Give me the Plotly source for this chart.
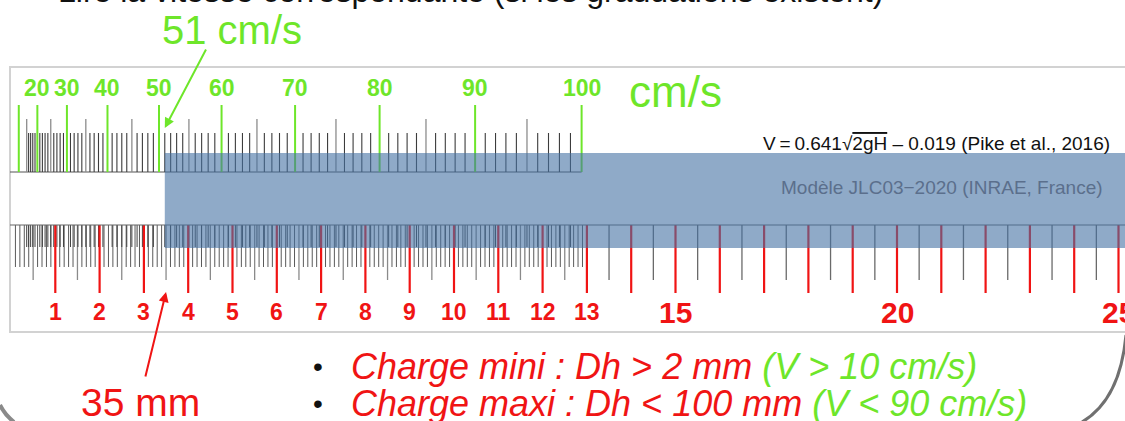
import plotly.graph_objects as go

# ---------------- data ----------------
cm_label_values = [1, 2, 3, 4, 5, 6, 7, 8, 9, 10, 11, 12, 13, 15, 20, 25]
cm_red_ticks = list(range(1, 26))
mm_fine_end_cm = 13
half_cm_ticks_far = [13.5, 14.5, 15.5, 16.5, 17.5, 18.5, 19.5, 20.5, 21.5, 22.5, 23.5, 24.5]
v_major = [10, 20, 30, 40, 50, 60, 70, 80, 90, 100]
v_labels = [20, 30, 40, 50, 60, 70, 80, 90, 100]
v_minor = [v for v in range(15, 100) if v % 10 != 0]
v_read = 51          # cm/s read on the scale
h_read_mm = 35       # mm read on the scale
coef_a, coef_b, g = 0.641, 0.019, 9.81   # V = a*sqrt(2gH) - b  (Pike et al., 2016)

W, HGT = 1125, 421
PX0, PXCM = 11, 44.3   # pixel of 0 cm, pixels per cm


def h_cm(v_cms):
    v = v_cms / 100.0
    return ((v + coef_b) / coef_a) ** 2 / (2 * g) * 100.0


def px_to_cm(px):
    return (px - PX0) / PXCM


def segs(xs, y0, y1):
    X, Y = [], []
    for x in xs:
        X += [x, x, None]
        Y += [y0, y1, None]
    return X, Y


GREEN = "#6ee62a"
RED = "#f01414"
FONT = "Liberation Sans, Arial, sans-serif"

fig = go.Figure()


def add_ticks(xs, y0, y1, color, width):
    X, Y = segs(xs, y0, y1)
    fig.add_trace(go.Scatter(x=X, y=Y, mode="lines", line=dict(color=color, width=width),
                             hoverinfo="skip", showlegend=False))


# ---------- bottom ruler (cm / mm) ----------
mm_all = [i / 10 for i in range(1, mm_fine_end_cm * 10)]
mm_small = [m for m in mm_all if round(m * 10) % 5 != 0]
half_near = [m for m in mm_all if round(m * 10) % 10 == 5]
add_ticks(mm_small, 225, 267, "#5a5a5a", 1)
add_ticks(half_near, 225, 280, "#8a8a8a", 1.3)
add_ticks(half_cm_ticks_far, 225, 280, "#6a6a6a", 1.3)
# velocity graduations mirrored on the bottom edge
add_ticks([h_cm(v) for v in v_minor], 225, 247, "#404040", 1)
add_ticks(cm_red_ticks, 225, 293, RED, 2.2)

# baselines
fig.add_trace(go.Scatter(x=[px_to_cm(10), h_cm(v_major[-1])], y=[172, 172], mode="lines",
                         line=dict(color="#555", width=1.2), hoverinfo="skip", showlegend=False))
fig.add_trace(go.Scatter(x=[px_to_cm(10), px_to_cm(W + 5)], y=[225, 225], mode="lines",
                         line=dict(color="#666", width=1.2), hoverinfo="skip", showlegend=False))

# ---------- top ruler (velocity) ----------
v_five = [v for v in v_minor if v % 5 == 0]
v_one = [v for v in v_minor if v % 5 != 0]
add_ticks([h_cm(v) for v in v_one], 133, 172, "#3c3c3c", 1.1)
add_ticks([h_cm(v) for v in v_five], 119, 172, "#8c8c8c", 1.3)
add_ticks([h_cm(v) for v in v_major], 105, 172, GREEN, 2)

ann = []
for v in v_labels:
    ann.append(dict(x=h_cm(v), y=88, text=str(v), showarrow=False, xanchor="center", yanchor="middle",
                    font=dict(family=FONT, size=23, color=GREEN, weight="bold")))
for c in cm_label_values:
    big = c >= 15
    ann.append(dict(x=c, y=312, text=str(c), showarrow=False, xanchor="center", yanchor="middle",
                    font=dict(family=FONT, size=30 if big else 23, color=RED, weight="bold")))

ann.append(dict(x=px_to_cm(675), y=91, text="cm/s", showarrow=False, xanchor="center", yanchor="middle",
                font=dict(family=FONT, size=44, color=GREEN)))
ann.append(dict(x=px_to_cm(232), y=30, text="51 cm/s", showarrow=False, xanchor="center", yanchor="middle",
                font=dict(family=FONT, size=40, color=GREEN)))
ann.append(dict(x=px_to_cm(140), y=402, text=f"{h_read_mm} mm", showarrow=False, xanchor="center",
                yanchor="middle", font=dict(family=FONT, size=39, color=RED)))
# arrows
ann.append(dict(x=h_cm(v_read), y=128, ax=42, ay=-80, text="", showarrow=True, arrowhead=2,
                arrowsize=1, arrowwidth=2, arrowcolor=GREEN))
ann.append(dict(x=h_read_mm / 10, y=292, ax=-21, ay=86, text="", showarrow=True, arrowhead=2,
                arrowsize=1, arrowwidth=2, arrowcolor=RED))

# formula & model text
ann.append(dict(x=px_to_cm(1112), y=143,
                text="V\u2009=\u20090.641\u221a<span style='text-decoration:overline'>2gH</span> \u2013 0.019 (Pike et al., 2016)",
                showarrow=False, xanchor="right", yanchor="middle",
                font=dict(family=FONT, size=19, color="#111")))
ann.append(dict(x=px_to_cm(942), y=187, text="Modèle JLC03\u22122020 (INRAE, France)", showarrow=False,
                xanchor="center", yanchor="middle", font=dict(family=FONT, size=19, color="#5b6f8c")))

# bullets
ann.append(dict(x=px_to_cm(318), y=366, text="\u2022", showarrow=False, xanchor="center", yanchor="middle",
                font=dict(family=FONT, size=28, color="#111")))
ann.append(dict(x=px_to_cm(318), y=403, text="\u2022", showarrow=False, xanchor="center", yanchor="middle",
                font=dict(family=FONT, size=28, color="#111")))
ann.append(dict(x=px_to_cm(349), y=366,
                text=f"<i>Charge mini : Dh &gt; 2 mm <span style='color:{GREEN}'>(V &gt; 10 cm/s)</span></i>",
                showarrow=False, xanchor="left", yanchor="middle", font=dict(family=FONT, size=36, color=RED)))
ann.append(dict(x=px_to_cm(349), y=403,
                text=f"<i>Charge maxi : Dh &lt; 100 mm <span style='color:{GREEN}'>(V &lt; 90 cm/s)</span></i>",
                showarrow=False, xanchor="left", yanchor="middle", font=dict(family=FONT, size=36, color=RED)))

# cut-off slide title
ann.append(dict(xref="paper", yref="paper", x=470 / W, y=1 + 9 / HGT,
                text="Lire la vitesse correspondante (si les graduations existent)",
                showarrow=False, xanchor="center", yanchor="middle",
                font=dict(family=FONT, size=32, color="#111")))


def pp(px, py):
    return f"{px / W:.5f},{1 - py / HGT:.5f}"


shapes = [
    # ruler frame
    dict(type="rect", xref="paper", yref="paper", x0=10 / W, x1=1.02, y0=1 - 332 / HGT, y1=1 - 67 / HGT,
         line=dict(color="#d2d2d2", width=2), fillcolor="white", layer="below"),
    # blue band
    dict(type="rect", xref="x", yref="y", x0=h_cm(v_read), x1=px_to_cm(W + 10), y0=153, y1=248,
         line=dict(width=0), fillcolor="rgba(68,113,163,0.6)", layer="above"),
    # slide corners
    dict(type="path", xref="paper", yref="paper", path=f"M {pp(1126, 335)} Q {pp(1120, 400)} {pp(1082, 422)}",
         line=dict(color="#707070", width=3)),
    dict(type="path", xref="paper", yref="paper", path=f"M {pp(0, 405)} Q {pp(5, 415)} {pp(14, 422)}",
         line=dict(color="#8a8a8a", width=4)),
]

fig.update_layout(
    width=W, height=HGT, margin=dict(l=0, r=0, t=0, b=0),
    paper_bgcolor="white", plot_bgcolor="white",
    xaxis=dict(range=[px_to_cm(0), px_to_cm(W)], visible=False, fixedrange=True),
    yaxis=dict(range=[HGT, 0], visible=False, fixedrange=True),
    annotations=ann, shapes=shapes, showlegend=False,
)
fig.write_html("out.html", config={"displayModeBar": False},
               post_script="document.body.style.margin='0';document.body.style.overflow='hidden';")
